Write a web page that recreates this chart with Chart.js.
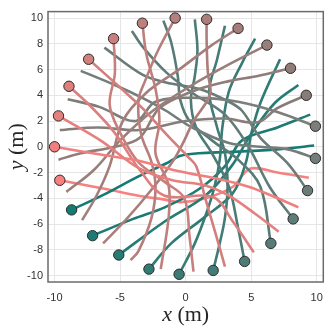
<!DOCTYPE html>
<html>
<head>
<meta charset="utf-8">
<script src="https://cdn.jsdelivr.net/npm/chart.js@4"></script>
<style>
  html, body { margin: 0; padding: 0; background: #fff; }
  #wrap { width: 332px; height: 328px; }
</style>
</head>
<body>
<div id="wrap"><canvas id="myChart" width="332" height="328"></canvas></div>
<script>
// tick labels
const xTicks = [-10, -5, 0, 5, 10];
const yTicks = [-10, -8, -6, -4, -2, 0, 2, 4, 6, 8, 10];

// trajectories, first point = start marker (agent order round the circle)
const traj0 = [[-10, 0], [-6.5, -0.6], [-3.5, -1.1], [-0.5, -1.9], [2.5, -2.5], [4.8, -3.1], [6.8, -3.9], [8.6, -4.7]];
const traj1 = [[-9.7, 2.4], [-6.5, 0.5], [-3.5, -1.7], [-1, -2.6], [1.5, -3.0], [3.3, -3.8], [5.3, -5.2], [7.1, -6.6]];
const traj2 = [[-8.9, 4.7], [-7.5, 3.4], [-5.5, 1.2], [-3.5, -1.8], [-1.6, -3.8], [2.1, -3.9], [3.6, -5.8], [5.2, -8.2]];
const traj3 = [[-7.4, 6.8], [-5, 4.6], [-3.3, 3.0], [-1.5, 1.0], [0.2, -0.8], [0.8, -1.5], [1.5, -4], [2.3, -6.8], [3.0, -9.3]];
const traj4 = [[-5.5, 8.4], [-5.4, 5.7], [-5.8, 3.3], [-5.1, 1.3], [-3.6, -1.2], [-1.5, -2.8], [-0.1, -4.0], [0.3, -7], [0.6, -9.7]];
const traj5 = [[-3.3, 9.6], [-3.0, 7.2], [-2.3, 4.5], [-2.0, 2.0], [-2.3, -0.5], [-1.3, -3.0], [-1.3, -5.5], [-1.9, -9.5]];
const traj6 = [[-0.8, 10], [-2.1, 7.5], [-3.1, 5.1], [-3.6, 3.6], [-3.4, 1.0], [-2.6, -1.2], [-2.3, -3.1], [-2.6, -5.5], [-3.6, -8.1], [-4.2, -8.8]];
const traj7 = [[1.6, 9.9], [1.6, 8.3], [1.7, 5.7], [1.9, 4.3], [1.6, 3.5], [0.6, 2.0], [-0.1, 0.5], [-0.9, -1.0], [-2.5, -3.2], [-4.5, -5.6], [-6.3, -7.5]];
const traj8 = [[4, 9.2], [2, 7.9], [-0.5, 6.0], [-3, 4.2], [-4.8, 2.0], [-5.8, -1.5], [-6.8, -3.8], [-7.9, -5.7]];
const traj9 = [[6.2, 7.9], [3.3, 6.4], [0.5, 4.8], [-2.5, 2.8], [-5, 0.5], [-7, -1.8], [-9.1, -3.5]];
const traj10 = [[8, 6.1], [5.5, 5.5], [3.3, 5.1], [0.5, 4.3], [-2, 3.0], [-3.5, 0.7], [-5.4, 0], [-8, -0.5], [-9.7, -1.0]];
const traj11 = [[9.2, 4.0], [7, 3.0], [5.5, 1.9], [3, 2.2], [0, 2.0], [-3.5, 1.3], [-6.7, 1.5], [-9.6, 1.3]];
const traj12 = [[9.9, 1.6], [7, 2.7], [4, 3.5], [1, 3.8], [-2.3, 3.5], [-3.8, 2.0], [-6.6, 3.1], [-9, 3.7]];
const traj13 = [[9.9, -0.9], [7.8, -0.2], [5.7, 0], [3.3, 0.3], [0.5, 1.5], [-1.5, 2.8], [-3.3, 3.8], [-5.4, 4.8], [-8, 5.9]];
const traj14 = [[9.3, -3.4], [7.8, -1.3], [5.7, 0.7], [4.3, 2.8], [3.3, 3.5], [1, 4.5], [-1.5, 5.0], [-3.3, 5.6], [-6.2, 7.7]];
const traj15 = [[8.2, -5.6], [6.4, -3.1], [4.8, 0], [3, 2.5], [0.5, 4.2], [-1.5, 5.8], [-3.3, 7.8], [-4.1, 9.0]];
const traj16 = [[6.5, -7.5], [5.7, -3.1], [4, -1], [2, 0.5], [0.3, 2], [-0.4, 3.6], [-0.6, 5.5], [-1.1, 8.1], [-1.7, 9.8]];
const traj17 = [[4.5, -8.9], [4, -6.3], [3.3, -3.1], [2.0, -0.5], [0.8, 1.5], [0.4, 3.6], [0.7, 5.5], [0.9, 7.5], [0.7, 9.9]];
const traj18 = [[2.1, -9.6], [2.6, -7.5], [3.0, -5.5], [3.2, -3.1], [3.0, -0.5], [2.4, 1.5], [1.8, 4.3], [2.4, 6.8], [3.0, 9.4]];
const traj19 = [[-0.5, -9.9], [0.7, -7.5], [1.6, -5.1], [2.2, -3.1], [2.6, -1], [2.8, 1.5], [3.3, 4.3], [4.3, 6.5], [5.3, 8.4]];
const traj20 = [[-2.8, -9.5], [-1.1, -7.5], [1.4, -5.5], [3.6, -3.6], [4.6, -1.2], [5.0, 1.0], [5.7, 3.4], [7.2, 6.8]];
const traj21 = [[-5.1, -8.4], [-1.6, -5.8], [1.5, -3.8], [3.5, -1.5], [5, 1.0], [6.8, 3.4], [8.6, 4.8]];
const traj22 = [[-7.1, -6.9], [-4, -5.6], [-1.6, -4.7], [1, -3.3], [3.0, -1.5], [4.3, 0.5], [7, 1.5], [9.5, 2.5]];
const traj23 = [[-8.7, -4.9], [-6.2, -3.7], [-3.6, -2.3], [-1.5, -1.3], [-0.4, -0.7], [1, -0.5], [3.3, -0.4], [7, -0.2], [9.8, 0.1]];
const traj24 = [[-9.6, -2.6], [-6, -3.3], [-3.6, -3.8], [-1.6, -4.1], [-0.4, -4.3], [1.5, -4.0], [3.6, -3.1], [4.9, -1.7], [7, -2.0], [9.4, -2.4]];

const trajs = [traj0, traj1, traj2, traj3, traj4, traj5, traj6, traj7, traj8, traj9, traj10, traj11, traj12,
  traj13, traj14, traj15, traj16, traj17, traj18, traj19, traj20, traj21, traj22, traj23, traj24];

// colour runs salmon -> grey -> teal, starting at the last agent
function agentColor(i) {
  let t = ((i + 1) % trajs.length) / (trajs.length - 1);
  let a = [248, 128, 127], b = [20, 122, 116];
  let c = a.map((v, k) => Math.round(v + (b[k] - v) * t));
  return "rgb(" + c.join(",") + ")";
}

let datasets = [];
// start markers on top of everything
datasets.push({
  data: trajs.map(p => ({ x: p[0][0], y: p[0][1] })),
  showLine: false,
  pointRadius: 5.2,
  pointBorderWidth: 1,
  pointBorderColor: "#2b2b2b",
  pointBackgroundColor: trajs.map((p, i) => agentColor(i)),
  order: -1,
});
trajs.forEach((p, i) => {
  datasets.push({
    data: p.map(q => ({ x: q[0], y: q[1] })),
    showLine: true,
    borderColor: agentColor(i),
    borderWidth: 2.6,
    tension: 0.35,
    pointRadius: 0,
    fill: false,
  });
});

// box round the axes and the axis titles
const boxAndTitles = {
  id: "boxAndTitles",
  afterDraw(chart) {
    const c = chart.ctx, a = chart.chartArea;
    c.save();
    c.strokeStyle = "#6b6b6b";
    c.lineWidth = 1.5;
    c.strokeRect(a.left, a.top, a.right - a.left, a.bottom - a.top);
    c.fillStyle = "#262626";
    c.textBaseline = "middle";
    // x title
    let it = "italic 22px 'Liberation Serif'", rg = "22px 'Liberation Serif'";
    c.font = it; let w1 = c.measureText("x").width;
    c.font = rg; let w2 = c.measureText(" (m)").width;
    let cx = (a.left + a.right) / 2, x0 = cx - (w1 + w2) / 2;
    c.font = it; c.fillText("x", x0, 315);
    c.font = rg; c.fillText(" (m)", x0 + w1, 315);
    // y title
    c.translate(17, (a.top + a.bottom) / 2);
    c.rotate(-Math.PI / 2);
    c.font = it; w1 = c.measureText("y").width;
    x0 = -(w1 + w2) / 2;
    c.fillText("y", x0, 0);
    c.font = rg; c.fillText(" (m)", x0 + w1, 0);
    c.restore();
  }
};

let chart = document.getElementById("myChart").getContext("2d");
const myChart = new Chart(chart, {
  type: "scatter",
  data: { datasets: datasets },
  options: {
    responsive: false,
    animation: false,
    layout: { padding: { left: 0, right: 3, top: 3, bottom: 0 } },
    plugins: { legend: { display: false }, tooltip: { enabled: false } },
    scales: {
      x: {
        min: -10.5, max: 10.5,
        afterBuildTicks: s => { s.ticks = xTicks.map(v => ({ value: v })); },
        afterFit: s => { s.height = 46; },
        grid: { color: "#e6e6e6", lineWidth: 1, drawTicks: false },
        border: { display: false },
        ticks: { color: "#333", font: { family: "'Liberation Sans'", size: 11 }, padding: 9, maxRotation: 0 },
      },
      y: {
        min: -10.5, max: 10.5,
        afterBuildTicks: s => { s.ticks = yTicks.map(v => ({ value: v })); },
        afterFit: s => { s.width = 48; },
        grid: { color: "#e6e6e6", lineWidth: 1, drawTicks: false },
        border: { display: false },
        ticks: { color: "#333", font: { family: "'Liberation Sans'", size: 11 }, padding: 5 },
      },
    },
  },
  plugins: [boxAndTitles],
});
window.myChart = myChart;
</script>
</body>
</html>
